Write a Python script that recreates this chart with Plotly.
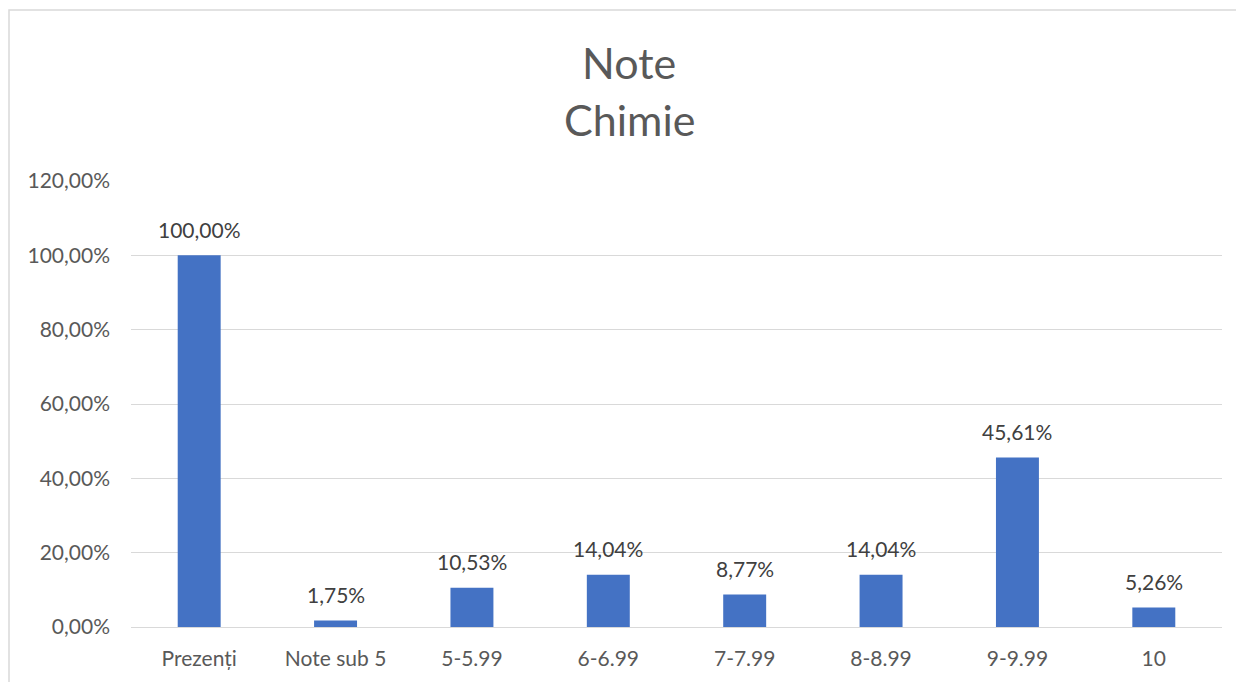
import plotly.graph_objects as go

categories = ["Prezenți", "Note sub 5", "5-5.99", "6-6.99", "7-7.99", "8-8.99", "9-9.99", "10"]
values = [100.00, 1.75, 10.53, 14.04, 8.77, 14.04, 45.61, 5.26]
tick_vals = [0, 20, 40, 60, 80, 100, 120]
tick_text = ["0,00%", "20,00%", "40,00%", "60,00%", "80,00%", "100,00%", "120,00%"]
labels = [f"{v:.2f}".replace(".", ",") + "%" for v in values]

FONT = "Lato"
GREY = "#595959"
OFF = 8  # page body margin offset
FS = 21

fig = go.Figure(go.Bar(
    x=categories, y=values,
    marker=dict(color="#4472c4", line=dict(width=0)),
    hoverinfo="skip",
))

W, H = 1244 - OFF, 682 - OFF
L, R, T, B = 131 - OFF, 22, 181 - OFF, 55
pw, ph = W - L - R, H - T - B

def px(x):
    return (x - OFF - L) / pw

def py(y):
    return (H - B - (y - OFF)) / ph

annotations = [
    dict(text=lab, x=i, y=v, xref="x", yref="y", yshift=26, showarrow=False,
         xanchor="center", yanchor="middle",
         font=dict(family=FONT, size=FS, color="#404040"))
    for i, (v, lab) in enumerate(zip(values, labels))
]
annotations += [
    dict(text="Note", xref="paper", yref="paper", x=px(629), y=py(62),
         xanchor="center", yanchor="middle", showarrow=False,
         font=dict(family=FONT, size=43, color=GREY)),
    dict(text="Chimie", xref="paper", yref="paper", x=px(629), y=py(120),
         xanchor="center", yanchor="middle", showarrow=False,
         font=dict(family=FONT, size=43, color=GREY)),
]

fig.update_layout(
    width=W, height=H,
    margin=dict(l=L, r=R, t=T, b=B),
    paper_bgcolor="white", plot_bgcolor="white",
    showlegend=False,
    bargap=0.685,
    font=dict(family=FONT, color=GREY, size=FS),
    xaxis=dict(type="category", showgrid=False, showline=True, linecolor="#d9d9d9", linewidth=1,
               ticks="", ticklabelstandoff=13,
               tickfont=dict(family=FONT, size=FS, color=GREY)),
    yaxis=dict(range=[0, 120], tickvals=tick_vals, ticktext=tick_text,
               showgrid=True, gridcolor="#d9d9d9", gridwidth=1, zeroline=False,
               showline=False, ticks="", ticklen=0, ticklabelstandoff=20,
               tickfont=dict(family=FONT, size=FS, color=GREY)),
    annotations=annotations,
    shapes=[
        dict(type="rect", xref="paper", yref="paper",
             x0=px(9), x1=px(1239), y0=py(720), y1=py(10),
             line=dict(color="#d9d9d9", width=1.5), fillcolor="rgba(0,0,0,0)", layer="below"),
    ],
)

fig.write_html("out.html")
